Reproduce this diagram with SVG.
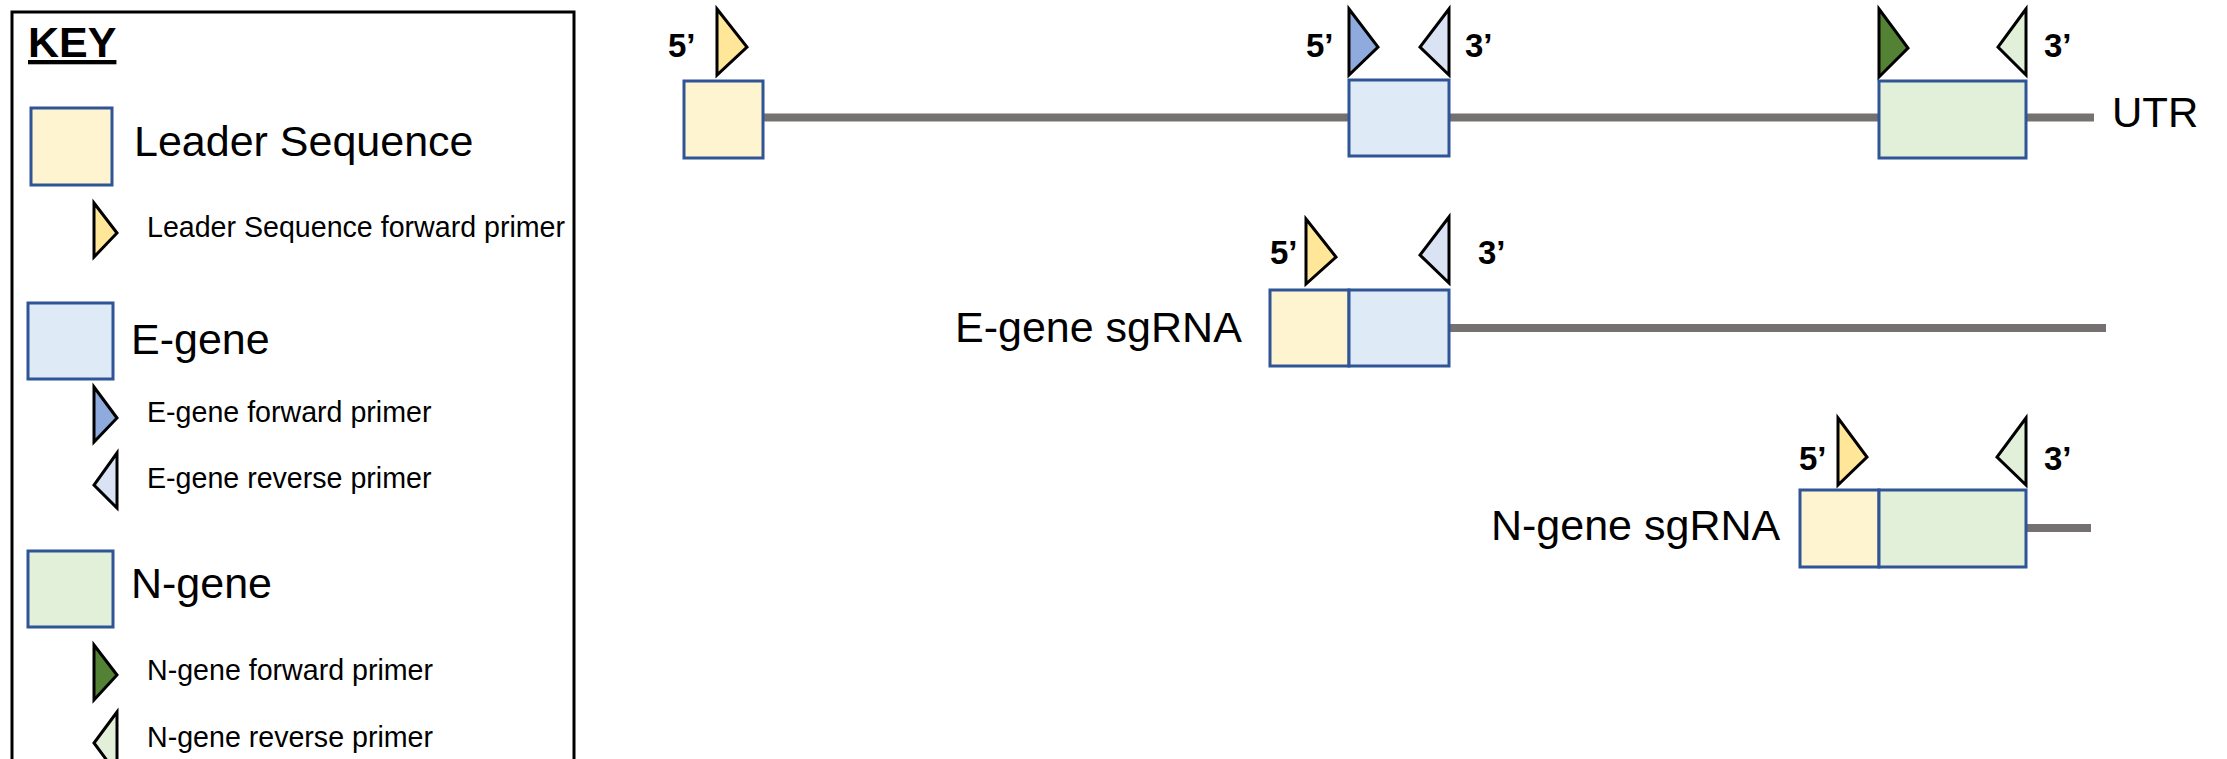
<svg xmlns="http://www.w3.org/2000/svg" width="2227" height="759" viewBox="0 0 2227 759">
<style>
text{font-family:"Liberation Sans",Arial,sans-serif;fill:#000}
.big{font-size:43px}
.small{font-size:28.6px}
.end{font-size:33px;font-weight:bold}
.box{stroke:#2F5597;stroke-width:3}
.ldr{fill:#FFF4D0}
.eg{fill:#DEEBF7}
.ng{fill:#E2F0D9}
.pr{stroke:#000;stroke-width:3;stroke-linejoin:miter}
.pl{fill:#FFE699}
.pef{fill:#8FAADC}
.per{fill:#DAE3F3}
.pnf{fill:#548235}
.pnr{fill:#E2F0D9}
.rna{stroke:#767171;stroke-width:8;fill:none}
</style>
<rect width="2227" height="759" fill="#fff"/>
<g id="key">
<rect x="12" y="12" width="562" height="780" fill="none" stroke="#000" stroke-width="3"/>
<text x="28" y="57" style="font-size:43px;font-weight:bold;text-decoration:underline">KEY</text>
<rect class="box ldr" x="31" y="108" width="81" height="77"/>
<text class="big" x="134" y="156">Leader Sequence</text>
<polygon class="pr pl" points="94,203 117,233 94,257"/>
<text class="small" x="147" y="237">Leader Sequence forward primer</text>
<rect class="box eg" x="28" y="303" width="85" height="76"/>
<text class="big" x="131" y="354">E-gene</text>
<polygon class="pr pef" points="94,387 117,418 94,442"/>
<text class="small" x="147" y="422">E-gene forward primer</text>
<polygon class="pr per" points="117,453 94,485 117,508"/>
<text class="small" x="147" y="488">E-gene reverse primer</text>
<rect class="box ng" x="28" y="551" width="85" height="76"/>
<text class="big" x="131" y="598">N-gene</text>
<polygon class="pr pnf" points="94,645 117,675 94,700"/>
<text class="small" x="147" y="680">N-gene forward primer</text>
<polygon class="pr pnr" points="117,712 94,743 117,774"/>
<text class="small" x="147" y="747">N-gene reverse primer</text>
</g>
<g id="connectors">
<line class="rna" x1="763" y1="117.5" x2="2094" y2="117.5"/>
<line class="rna" x1="1449" y1="328" x2="2106" y2="328"/>
<line class="rna" x1="2026" y1="528" x2="2091" y2="528"/>
</g>
<g id="genome">
<rect class="box ldr" x="684" y="81" width="79" height="77"/>
<rect class="box eg" x="1349" y="80" width="100" height="76"/>
<rect class="box ng" x="1879" y="81" width="147" height="77"/>
<polygon class="pr pl" points="717,9 747,47 717,75"/>
<polygon class="pr pef" points="1349,9 1378,47 1349,75"/>
<polygon class="pr per" points="1449,9 1420,47 1449,75"/>
<polygon class="pr pnf" points="1879,9 1908,48 1879,77"/>
<polygon class="pr pnr" points="2026,9 1998,47 2026,75"/>
<text class="end" x="668" y="57">5’</text>
<text class="end" x="1306" y="57">5’</text>
<text class="end" x="1465" y="57">3’</text>
<text class="end" x="2044" y="57">3’</text>
<text x="2112" y="127" style="font-size:42px">UTR</text>
</g>
<g id="e-sgrna">
<rect class="box ldr" x="1270" y="290" width="79" height="76"/>
<rect class="box eg" x="1349" y="290" width="100" height="76"/>
<polygon class="pr pl" points="1306,219 1336,257 1306,284"/>
<polygon class="pr per" points="1449,217 1420,255 1449,283"/>
<text class="end" x="1270" y="264">5’</text>
<text class="end" x="1478" y="264">3’</text>
<text class="big" x="955" y="342">E-gene sgRNA</text>
</g>
<g id="n-sgrna">
<rect class="box ldr" x="1800" y="490" width="79" height="77"/>
<rect class="box ng" x="1879" y="490" width="147" height="77"/>
<polygon class="pr pl" points="1838,418 1867,457 1838,485"/>
<polygon class="pr pnr" points="2026,418 1997,457 2026,485"/>
<text class="end" x="1799" y="470">5’</text>
<text class="end" x="2044" y="470">3’</text>
<text class="big" x="1491" y="540">N-gene sgRNA</text>
</g>
</svg>
